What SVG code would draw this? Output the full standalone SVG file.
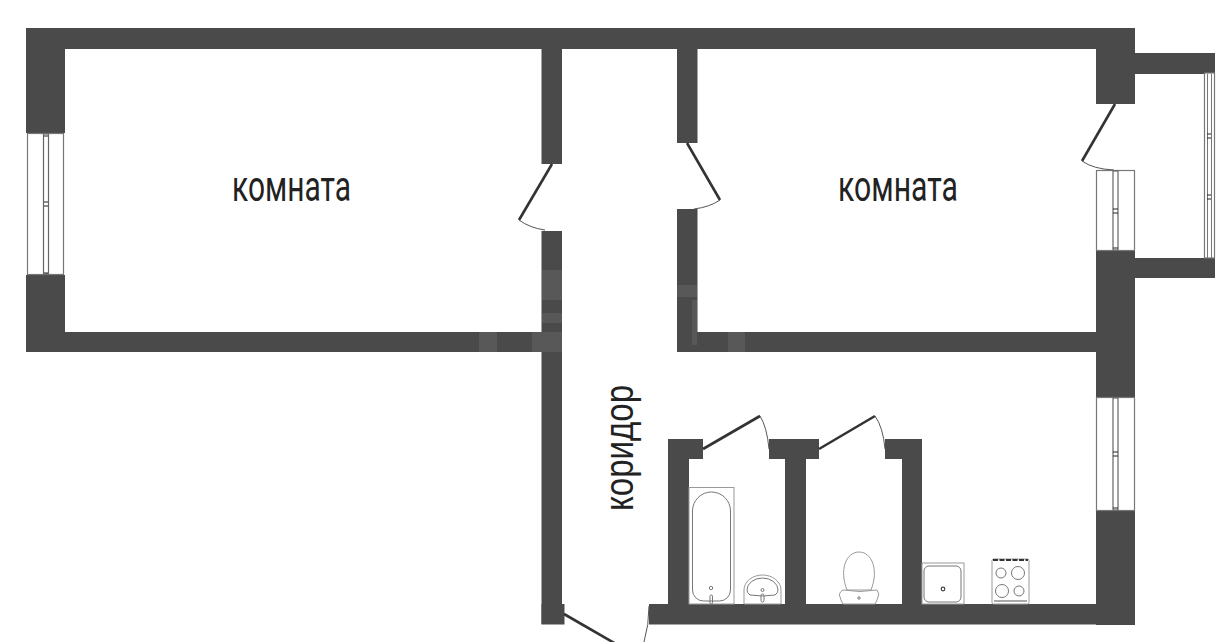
<svg xmlns="http://www.w3.org/2000/svg" width="1229" height="642" viewBox="0 0 1229 642">
<defs>
<style>
.wall{fill:#4a4a4a}
.label{font-family:"Roboto","Liberation Sans",sans-serif;font-size:42px;fill:#222}
.label2{font-family:"Liberation Sans",sans-serif;font-size:40px;fill:#222}
.door{fill:none;stroke:#333;stroke-width:2.6}
.arc{fill:none;stroke:#555;stroke-width:1}
.fix{fill:#fff;stroke:#999;stroke-width:1}
.fixd{fill:none;stroke:#777;stroke-width:1}
.win{fill:#fff;stroke:#777;stroke-width:1.2}
.pane{fill:#fff;stroke:#666;stroke-width:1.2}
.tick{stroke:#222;stroke-width:1}
</style>
</defs>
<rect width="1229" height="642" fill="#fff"/>
<g id="walls" class="wall">
<rect x="26" y="28" width="1109" height="21"/>
<rect x="26" y="28" width="39" height="105"/>
<rect x="26" y="275" width="39" height="77"/>
<rect x="26" y="332" width="536" height="20"/>
<rect x="541.5" y="49" width="20.500" height="115"/>
<rect x="541.5" y="231" width="20.500" height="393"/>
<rect x="541.5" y="604" width="23" height="20.500"/>
<rect x="677" y="49" width="20.500" height="94"/>
<rect x="677" y="209" width="20.500" height="143"/>
<rect x="677" y="332" width="458" height="20"/>
<rect x="1096" y="28" width="39" height="76"/>
<rect x="1135" y="53" width="80" height="21"/>
<rect x="1135" y="258" width="80" height="20"/>
<rect x="1096" y="250" width="39" height="147"/>
<rect x="1096" y="510" width="39" height="115"/>
<rect x="649" y="604" width="486" height="20.500"/>
<rect x="668" y="439" width="21" height="170"/>
<rect x="668" y="439" width="35" height="20"/>
<rect x="769" y="439" width="50" height="20"/>
<rect x="785" y="439" width="21" height="170"/>
<rect x="885" y="439" width="37" height="20"/>
<rect x="902" y="439" width="20" height="170"/>
</g>
<g id="watermark" fill="#fff" opacity="0.08">
<rect x="479" y="332" width="18" height="20"/>
<rect x="532" y="332" width="30" height="20"/>
<rect x="542" y="270" width="20" height="30"/>
<rect x="542" y="313" width="20" height="10"/>
<rect x="677" y="285" width="20" height="12"/>
<rect x="692" y="300" width="5" height="45"/>
<rect x="728" y="332" width="17" height="20"/>
</g>
<g id="connectors">
<path class="door" d="M552 164L519 220"/>
<path class="arc" d="M519 220Q530 228 545 230"/>
<path class="door" d="M687 143L720 200"/>
<path class="arc" d="M720 200Q710 207 694 209"/>
<path class="door" d="M1115 104L1082 161"/>
<path class="arc" d="M1082 161Q1093 169 1114 170"/>
<path class="door" d="M703 449L760 416"/>
<path class="arc" d="M760 416Q767 427 769 449"/>
<path class="door" d="M819 449L875 416"/>
<path class="arc" d="M875 416Q883 427 885 449"/>
<path class="door" d="M564 614L616 644"/>
<path class="arc" d="M649 606Q649 625 644 642"/>
</g>
<g id="window-left">
<rect class="win" x="27.500" y="133.500" width="36" height="141"/>
<rect class="pane" x="43.500" y="134" width="5" height="140"/>
<path class="tick" d="M44 136H48M44 202H48M44 206H48M44 273H48"/>
</g>
<g id="window-balcony-door">
<rect class="win" x="1096.500" y="170.500" width="38" height="80"/>
<rect class="pane" x="1113" y="171" width="5" height="79"/>
<path class="tick" d="M1113 209H1118M1113 213H1118M1113 248H1118"/>
</g>
<g id="window-balcony">
<rect class="win" x="1204.500" y="73" width="10" height="185"/>
<path d="M1207.500 74V258M1211.500 74V258" stroke="#777" fill="none"/>
<path class="tick" d="M1207 134H1211M1207 138H1211M1207 195H1211M1207 199H1211"/>
</g>
<g id="window-kitchen">
<rect class="win" x="1096.500" y="397.500" width="38" height="113"/>
<rect class="pane" x="1113" y="398" width="5" height="112"/>
<path class="tick" d="M1113 452H1118M1113 456H1118M1113 508H1118"/>
</g>
<g id="bath">
<rect class="fix" x="689" y="487.500" width="45" height="116.500"/>
<path class="fixd" d="M692.500 511a19 19 0 0 1 38 0V590a11 11 0 0 1 -11 11h-16a11 11 0 0 1 -11 -11Z"/>
<circle class="fixd" cx="711" cy="588" r="1.700"/>
<rect class="fixd" x="710" y="595" width="2.500" height="9" rx="1.200"/>
</g>
<g id="sink">
<path class="fix" d="M744 604V590a18.500 15 0 0 1 37 0V604Z"/>
<path class="fixd" d="M747 590a15.500 12 0 0 1 31 0q0 3 -3 5q-12 2 -25 0q-3 -2 -3 -5Z"/>
<circle class="fixd" cx="762.500" cy="590" r="1.500"/>
<rect class="fixd" x="761" y="594" width="3" height="8" rx="1.500"/>
</g>
<g id="toilet">
<path class="fix" stroke-width="1.200" d="M847 590C839 570 846 552 859 552C872 552 879 570 871 590Z"/>
<path class="fix" d="M843 590Q860 593 877 590Q880 594 878 597Q877 601 875 604H843Q841 601 840 597Q838 593 843 590Z"/>
<circle class="fixd" cx="859" cy="598" r="1.200"/>
</g>
<g id="kitchen-sink">
<rect class="fix" x="922" y="563" width="42" height="41"/>
<rect class="fixd" x="924" y="566" width="37" height="36" rx="5"/>
<circle cx="943" cy="589" r="1.800" fill="none" stroke="#444" stroke-width="1.200"/>
</g>
<g id="stove">
<rect class="fix" x="992" y="559" width="37" height="45" rx="1.500"/>
<path d="M993 560H1028" stroke="#333" stroke-width="2" stroke-dasharray="5 1.500"/>
<circle class="fixd" cx="1001" cy="573" r="5"/>
<circle class="fixd" cx="1018" cy="573" r="6.500"/>
<circle class="fixd" cx="1002" cy="591" r="6.500"/>
<circle class="fixd" cx="1019" cy="591" r="5"/>
<path d="M994 601H1027" stroke="#555" stroke-width="1.200"/>
</g>
<g id="room-1"><text class="label" x="232" y="201" textLength="119" lengthAdjust="spacingAndGlyphs">комната</text></g>
<g id="room-2"><text class="label" x="838" y="201" textLength="120" lengthAdjust="spacingAndGlyphs">комната</text></g>
<g id="corridor"><text class="label2" transform="translate(633 511) rotate(-90)" textLength="126" lengthAdjust="spacingAndGlyphs">коридор</text></g>
</svg>
